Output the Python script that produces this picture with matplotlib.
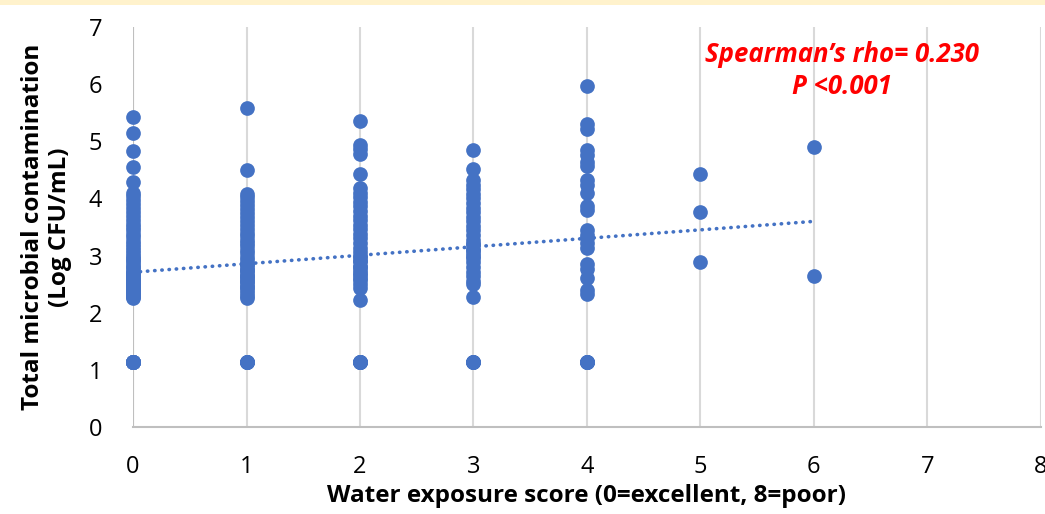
import numpy as np
import matplotlib.pyplot as plt
from matplotlib.patches import Rectangle

# Data (x = water exposure score, y = log CFU/mL)
col0 = [5.43, 5.15, 4.83, 4.55, 4.28,
        4.10, 4.04, 3.97, 3.90, 3.83, 3.76, 3.70, 3.63, 3.56, 3.50,
        3.44, 3.38, 3.32, 3.26, 3.20, 3.15, 3.10, 3.05, 3.00, 2.96,
        2.92, 2.88, 2.84, 2.80, 2.76, 2.72, 2.69, 2.66, 2.63, 2.60,
        2.57, 2.54, 2.51, 2.48, 2.45, 2.42, 2.39, 2.36, 2.33, 2.30,
        2.27, 2.25, 2.40, 2.50, 2.60, 2.70, 2.35, 2.45, 2.55, 2.65,
        1.13, 1.13, 1.13, 1.13, 1.13, 1.13, 1.13, 1.13, 1.13, 1.13,
        1.13, 1.13, 1.13, 1.13]
col1 = [5.58, 4.50,
        4.08, 4.02, 3.95, 3.88, 3.81, 3.74, 3.67, 3.60, 3.53, 3.46,
        3.40, 3.34, 3.28, 3.22, 3.16, 3.10, 3.04, 2.98, 2.92, 2.86,
        2.80, 2.75, 2.70, 2.65, 2.60, 2.55, 2.50, 2.45, 2.40, 2.35,
        2.30, 2.26, 2.45, 2.55, 2.65, 2.75, 2.85,
        1.13, 1.13, 1.13, 1.13, 1.13, 1.13]
col2 = [5.36, 4.93, 4.87, 4.78, 4.42,
        4.18, 4.10, 4.02, 3.94, 3.86, 3.78, 3.70, 3.62, 3.54, 3.46,
        3.38, 3.30, 3.22, 3.14, 3.06, 2.98, 2.90, 2.82, 2.74, 2.66,
        2.58, 2.50, 2.43, 2.22, 2.60, 2.70, 2.80, 2.90, 3.00,
        1.13, 1.13, 1.13, 1.13, 1.13, 1.13, 1.13]
col3 = [4.84, 4.52,
        4.32, 4.24, 4.16, 4.08, 4.00, 3.92, 3.84, 3.76, 3.68, 3.60,
        3.52, 3.44, 3.36, 3.28, 3.20, 3.12, 3.04, 2.96, 2.88, 2.80,
        2.72, 2.64, 2.56, 2.50, 2.28, 3.00, 3.10, 3.20,
        1.13, 1.13, 1.13, 1.13, 1.13]
col4 = [5.96, 5.30, 5.22, 4.84, 4.76, 4.64, 4.56, 4.32, 4.24, 4.10,
        3.86, 3.80, 3.44, 3.36, 3.30, 3.22, 3.13, 2.86, 2.76, 2.60,
        2.40, 2.32, 1.13, 1.13, 1.13, 1.13, 1.13, 1.13]
col5 = [4.43, 3.77, 2.89]
col6 = [4.90, 2.65]

columns = [col0, col1, col2, col3, col4, col5, col6]
rho_text = "Spearman\u2019s rho= 0.230\nP <0.001"

blue = '#4472C4'

x = np.concatenate([np.full(len(c), i) for i, c in enumerate(columns)])
y = np.concatenate(columns)

fig = plt.figure(figsize=(10.45, 5.14), dpi=100)
ax = fig.add_axes([0.1273, 0.1693, 0.8687, 0.7782])

# yellow strip across the top
fig.patches.append(Rectangle((0, 1 - 5 / 514), 1, 5 / 514, transform=fig.transFigure,
                             facecolor='#FFF2CC', edgecolor='none'))

ax.scatter(x, y, s=112, color=blue, zorder=3, linewidths=0, clip_on=False)

# linear trendline
slope, intercept = np.polyfit(x, y, 1)
tx = np.array([0, x.max()])
ax.plot(tx, intercept + slope * tx, color=blue, lw=2.6, linestyle=(0, (0.1, 1.9)),
        dash_capstyle='round', zorder=4)

ax.set_xlim(0, 8)
ax.set_ylim(0, 7)
ax.set_xticks(range(0, 9))
ax.set_yticks(range(0, 8))
ax.grid(axis='x', color='#D9D9D9', lw=1.5)
ax.set_axisbelow(True)
for s in ['top', 'right', 'left']:
    ax.spines[s].set_visible(False)
ax.spines['bottom'].set_color('#BFBFBF')
ax.spines['bottom'].set_linewidth(1.5)
ax.axvline(0, color='#BFBFBF', lw=1.5, zorder=1)
ax.tick_params(length=0, labelsize=17)
ax.tick_params(axis='y', pad=22)
ax.tick_params(axis='x', pad=20)
for lab in ax.get_xticklabels() + ax.get_yticklabels():
    lab.set_family('Open Sans')

ax.set_xlabel('Water exposure score (0=excellent, 8=poor)', fontsize=17.5,
              fontweight='bold', family='Open Sans', labelpad=4)
ax.set_ylabel('Total microbial contamination\n(Log CFU/mL)', fontsize=17.5,
              fontweight='bold', family='Open Sans', labelpad=12, linespacing=1.15)

ax.text(6.25, 6.24, rho_text, color='red', fontsize=18.5, fontweight='bold',
        style='italic', ha='center', va='center', linespacing=1.25, family='Open Sans')

fig.savefig('out.png', dpi=100)
